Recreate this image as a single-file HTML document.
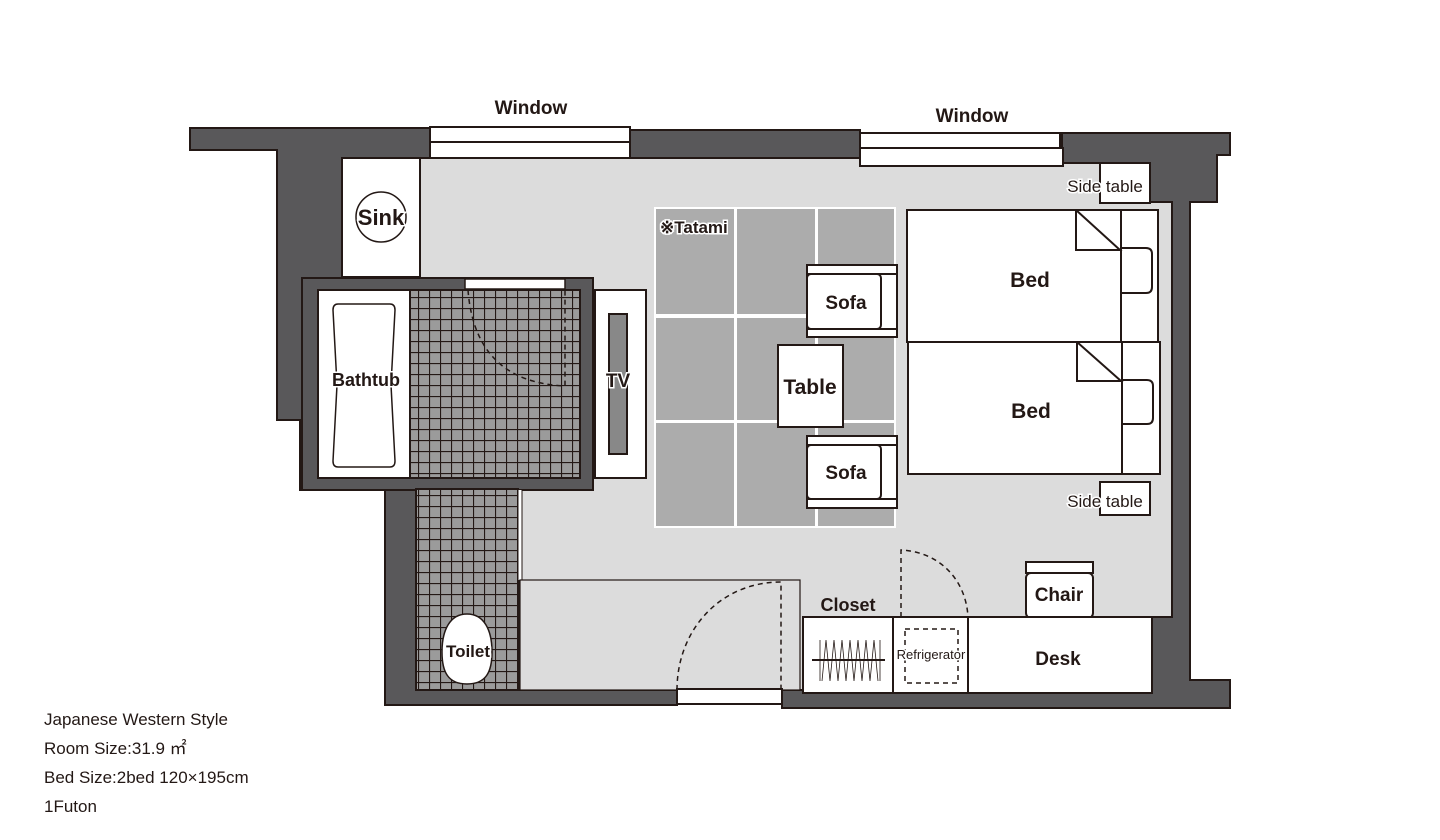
<!DOCTYPE html>
<html><head><meta charset="utf-8"><style>
html,body{margin:0;padding:0;background:#fff;width:1440px;height:840px;overflow:hidden}
svg{display:block}
.lb{font-family:"Liberation Sans",Arial,sans-serif;font-weight:bold;fill:#231815}
.ht{paint-order:stroke;stroke:#fff;stroke-width:3px}
.info{font-family:"Liberation Sans",Arial,sans-serif;font-size:17px;fill:#231815}
</style></head><body>
<svg width="1440" height="840" viewBox="0 0 1440 840" xmlns="http://www.w3.org/2000/svg">
<defs>
<pattern id="tile" x="0" y="0" width="11" height="11" patternUnits="userSpaceOnUse">
<rect width="11" height="11" fill="#9b9b9b"/>
<path d="M0 0.5H11M0.5 0V11" stroke="#231815" stroke-width="1.2"/>
</pattern>
</defs>
<g stroke="#231815" stroke-width="2">
<path fill="#59585a" d="M190 128 H430 V158 H630 V130 H860 V166 H1062 V133 H1230 V155 H1217 V202 H1190 V680 H1230 V708 H782 V704 H677 V705 H385 V490 H300 V420 H277 V150 H190 Z"/>
<path fill="#dcdcdc" d="M420 158 H860 V166 H1062 V163 H1150 V202 H1172 V617 H1152 V690 H782 V690 H520 V490 H593 V278 H420 Z"/>
<rect x="430" y="127" width="200" height="15" fill="#fff"/>
<rect x="430" y="142" width="200" height="16" fill="#fff"/>
<rect x="860" y="133" width="200" height="15" fill="#fff"/>
<rect x="860" y="148" width="203" height="18" fill="#fff"/>
<rect x="342" y="158" width="78" height="119" fill="#fff"/>
<circle cx="381" cy="217" r="25" fill="none" stroke-width="1.5"/>
<rect x="302" y="278" width="291" height="212" fill="#59585a"/>
<rect x="318" y="290" width="92" height="188" fill="#fff"/>
<rect x="410" y="290" width="170" height="188" fill="url(#tile)"/>
<rect x="465" y="279" width="100" height="10" fill="#fff" stroke-width="1.5"/>
<path d="M338 304 H390 Q395 304 395 310 L391 385 L395 461 Q395 467 390 467 H338 Q333 467 333 461 L337 385 L333 310 Q333 304 338 304 Z" fill="#fff" stroke-width="1.5"/>
<rect x="595" y="290" width="51" height="188" fill="#fff"/>
<rect x="609" y="314" width="18" height="140" fill="#888"/>
<rect x="416" y="489" width="102" height="201" fill="url(#tile)"/>
<line x1="520" y1="490" x2="520" y2="580" stroke="#fff" stroke-width="3"/>
<line x1="522" y1="490" x2="522" y2="580" stroke-width="1"/>
<path d="M467 614 C484 614 492 630 492 652 C492 672 486 684 467 684 C448 684 442 672 442 652 C442 630 450 614 467 614 Z" fill="#fff" stroke-width="1.5"/>
<rect x="520" y="580" width="280" height="110" fill="#dcdcdc" stroke-width="1.2"/>
<rect x="677" y="689" width="105" height="15" fill="#fff"/>
</g>
<path d="M468 290 Q475 382 565 386 V290" fill="none" stroke="#231815" stroke-width="1.5" stroke-dasharray="5 4"/>
<rect x="654" y="207" width="242" height="321" fill="#fff"/>
<g fill="#acacac">
<rect x="656" y="209" width="78" height="105"/><rect x="737" y="209" width="78" height="105"/><rect x="818" y="209" width="76" height="105"/>
<rect x="656" y="318" width="78" height="102"/><rect x="737" y="318" width="78" height="102"/><rect x="818" y="318" width="76" height="102"/>
<rect x="656" y="423" width="78" height="103"/><rect x="737" y="423" width="78" height="103"/><rect x="818" y="423" width="76" height="103"/>
</g>
<g stroke="#231815" stroke-width="2" fill="#fff">
<rect x="807" y="265" width="90" height="72"/>
<line x1="807" y1="274" x2="897" y2="274"/><line x1="807" y1="329" x2="897" y2="329"/>
<rect x="807" y="274" width="74" height="55" rx="4"/>
<rect x="807" y="436" width="90" height="72"/>
<line x1="807" y1="445" x2="897" y2="445"/><line x1="807" y1="499" x2="897" y2="499"/>
<rect x="807" y="445" width="74" height="54" rx="4"/>
<rect x="778" y="345" width="65" height="82"/>
<rect x="907" y="210" width="251" height="132"/>
<rect x="908" y="342" width="252" height="132"/>
<path d="M1121 210 V342 M1076 210 V250 H1120 L1076 210 M1121 248 H1146 Q1152 248 1152 254 V287 Q1152 293 1146 293 H1121" fill="none"/>
<path d="M1122 342 V474 M1077 342 V381 H1121 L1077 342 M1122 380 H1147 Q1153 380 1153 386 V418 Q1153 424 1147 424 H1122" fill="none"/>
<rect x="1100" y="163" width="50" height="40"/>
<rect x="1100" y="482" width="50" height="33"/>
<rect x="1026" y="562" width="67" height="11"/>
<rect x="1026" y="573" width="67" height="45" rx="5"/>
<rect x="803" y="617" width="349" height="76"/>
<line x1="893" y1="617" x2="893" y2="693"/><line x1="968" y1="617" x2="968" y2="693"/>
</g>
<g fill="none" stroke="#231815" stroke-width="1.5" stroke-dasharray="5 4">
<path d="M677 690 C677 630 720 582 781 582 V690"/>
<path d="M901 617 V550 C940 552 966 580 968 617"/>
<rect x="905" y="629" width="53" height="54"/>
</g>
<path d="M820 640 V681 M822 681 L826 640 L830 681 L834 640 L838 681 L842 640 L846 681 L850 640 L854 681 L858 640 L862 681 L866 640 L870 681 L874 640 L878 681 M880 640 V681" stroke="#231815" stroke-width="0.8" fill="none"/>
<line x1="812" y1="660" x2="885" y2="660" stroke="#231815" stroke-width="2"/>
<g class="lb">
<text x="531" y="114" font-size="19" text-anchor="middle">Window</text>
<text x="972" y="122" font-size="19" text-anchor="middle">Window</text>
<text class="ht" x="381" y="225" font-size="22" text-anchor="middle">Sink</text>
<text class="ht" x="366" y="386" font-size="18" text-anchor="middle">Bathtub</text>
<text class="ht" x="618" y="387" font-size="19" text-anchor="middle">TV</text>
<text class="ht" x="660" y="233" font-size="17">※Tatami</text>
<text x="846" y="309" font-size="19" text-anchor="middle">Sofa</text>
<text x="846" y="479" font-size="19" text-anchor="middle">Sofa</text>
<text class="ht" x="810" y="394" font-size="21" text-anchor="middle">Table</text>
<text x="1030" y="287" font-size="21" text-anchor="middle">Bed</text>
<text x="1031" y="418" font-size="21" text-anchor="middle">Bed</text>
<text class="ht" x="1105" y="192" font-size="17" font-weight="normal" text-anchor="middle">Side table</text>
<text class="ht" x="1105" y="507" font-size="17" font-weight="normal" text-anchor="middle">Side table</text>
<text x="1059" y="601" font-size="19" text-anchor="middle">Chair</text>
<text x="848" y="611" font-size="18" text-anchor="middle">Closet</text>
<text class="ht" x="931" y="659" font-size="13" font-weight="normal" text-anchor="middle">Refrigerator</text>
<text x="1058" y="665" font-size="19" text-anchor="middle">Desk</text>
<text class="ht" x="468" y="657" font-size="17" text-anchor="middle">Toilet</text>
</g>
<text class="info" x="44" y="725">Japanese Western Style</text>
<text class="info" x="44" y="754">Room Size:31.9 ㎡</text>
<text class="info" x="44" y="783">Bed Size:2bed 120×195cm</text>
<text class="info" x="44" y="812">1Futon</text>
</svg>
</body></html>
